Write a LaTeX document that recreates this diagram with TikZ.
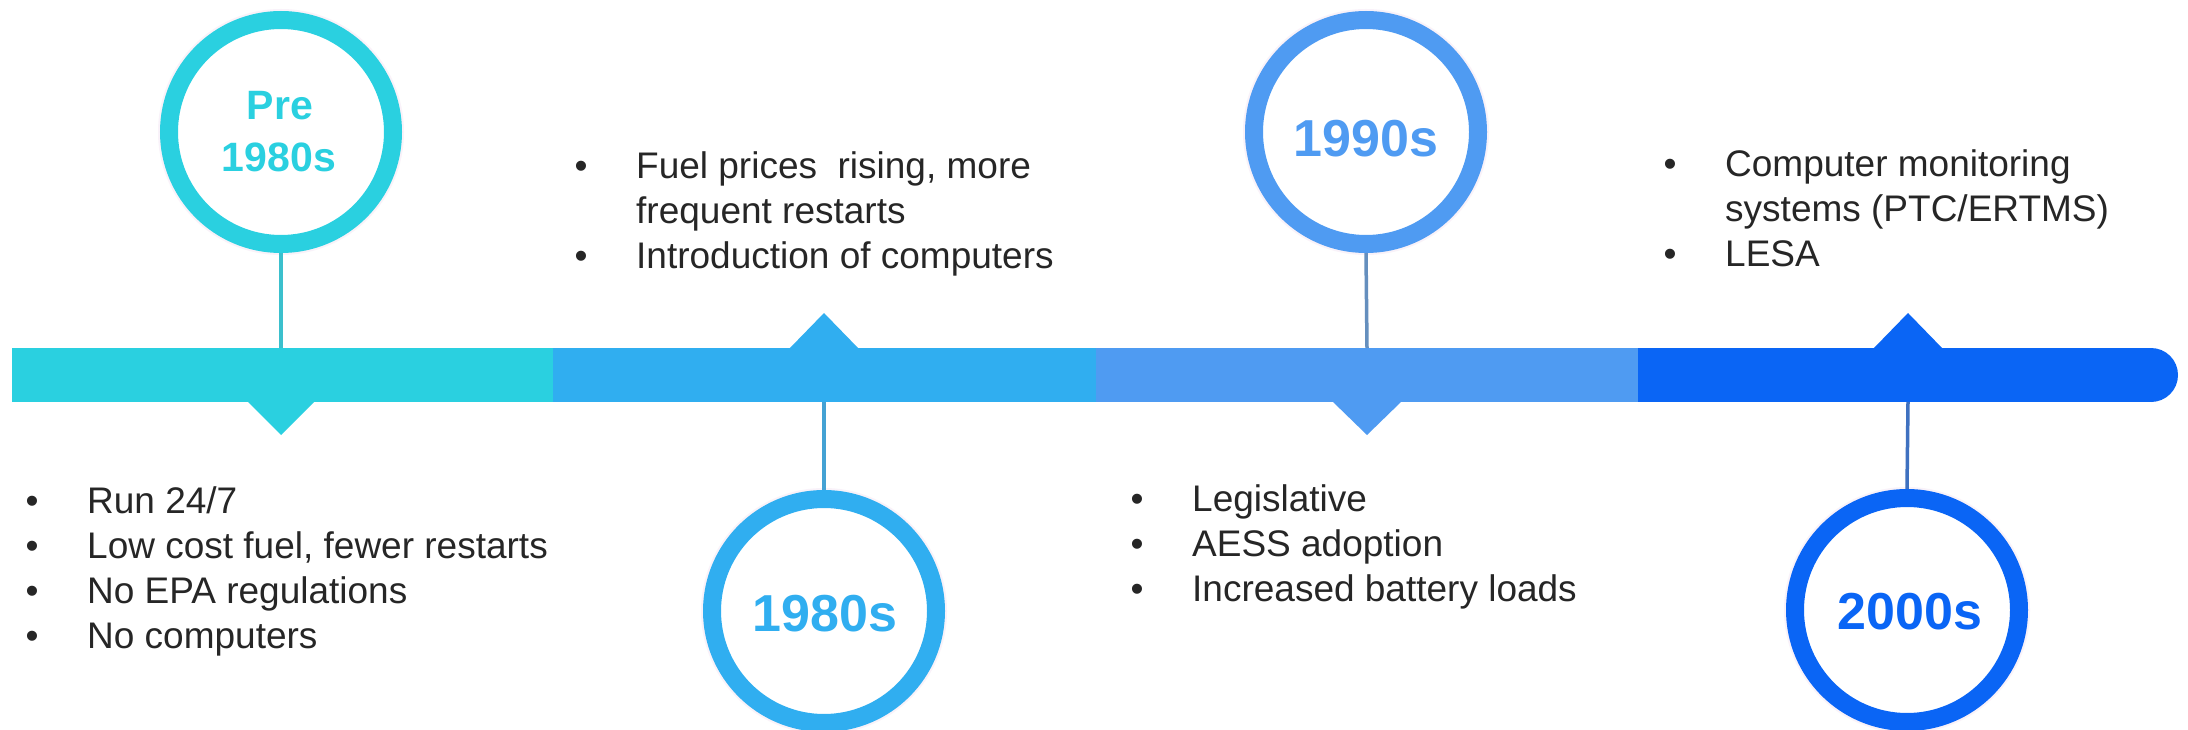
\documentclass[tikz,border=0pt]{standalone}
\usepackage{fontspec}
\setmainfont{Liberation Sans}
\definecolor{cA}{HTML}{2AD0E0}
\definecolor{cB}{HTML}{30AEF0}
\definecolor{cC}{HTML}{4F9BF2}
\definecolor{cD}{HTML}{0A65F5}
\definecolor{txt}{HTML}{262626}
\newcommand\bul{\makebox[61.5pt][l]{\textbullet}}
\begin{document}
\begin{tikzpicture}[x=1pt,y=-1pt,
  ring/.style={circle, draw=#1, line width=18pt, minimum size=224pt, inner sep=0pt, fill=white},
  halo/.style={circle, draw=#1, line width=10pt, minimum size=236pt, inner sep=0pt},
  seg/.style={inner sep=0pt, outer sep=0pt, minimum height=54pt},
  stem/.style={line width=3.5pt},
  yr/.style={anchor=base, inner sep=0pt, font=\bfseries\fontsize{52}{52}\selectfont},
  yrs/.style={anchor=base, inner sep=0pt, font=\bfseries\fontsize{41}{41}\selectfont},
  lst/.style={anchor=base west, inner sep=0pt, text=txt, font=\fontsize{37}{45}\selectfont}]
\useasboundingbox (0,0) rectangle (2188,730);
\fill[white] (0,0) rectangle (2188,730);

% timeline bar
\node[seg, fill=cA, minimum width=541pt] (s1) at (282.5,375) {};
\node[seg, fill=cB, minimum width=543pt] (s2) at (824.5,375) {};
\node[seg, fill=cC, minimum width=542pt] (s3) at (1367,375) {};
\node[seg, fill=cD, minimum width=513pt] (s4) at (1894.5,375) {};
\fill[cD] (2151,375) circle (27pt);

% pointers
\fill[cA] (247,401) -- (315,401) -- (281,435) -- cycle;
\fill[cB] (789,349) -- (859,349) -- (824,313) -- cycle;
\fill[cC] (1332,401) -- (1402,401) -- (1367,435) -- cycle;
\fill[cD] (1873,349) -- (1943,349) -- (1908,313) -- cycle;

% stem end points on the bar
\coordinate (b1) at (281,348);
\coordinate (b2) at (824,402);
\coordinate (b3) at (1367,348);
\coordinate (b4) at (1908,402);

% soft halos
\node[halo=violet!5] (h1) at (281,132) {};
\node[halo=violet!5] (h2) at (824,611) {};
\node[halo=violet!5] (h3) at (1366,132) {};
\node[halo=violet!5] (h4) at (1907,610) {};

% circles
\node[ring=cA] (pre) at (281,132) {};
\node[ring=cB] (c80) at (824,611) {};
\node[ring=cC] (c90) at (1366,132) {};
\node[ring=cD] (c00) at (1907,610) {};

% stems
\draw[stem, cA!80!gray] (pre.south) -- (b1);
\draw[stem, cB!75!gray] (b2) -- (c80.north);
\draw[stem, cC!55!gray] (c90.south) -- (b3);
\draw[stem, cD!55!gray] (b4) -- (c00.north);

% year labels
\node[yrs, text=cA] (preL1) at (280,120) {Pre};
\node[yrs, text=cA] (preL2) at (279,172) {1980s};
\node[yr, text=cB] (l80) at (825,631) {1980s};
\node[yr, text=cC] (l90) at (1366,157) {1990s};
\node[yr, text=cD] (l00) at (1910,629) {2000s};

% lists
\node[lst] (t1) at (25.5,513) {\begin{tabular}[t]{@{}l@{}l@{}}
\bul & Run 24/7\\
\bul & Low cost fuel, fewer restarts\\
\bul & No EPA regulations\\
\bul & No computers
\end{tabular}};
\node[lst] (t2) at (574.5,179) {\begin{tabular}[t]{@{}l@{}l@{}}
\bul & Fuel prices~ rising, more\\
 & frequent restarts\\
\bul & Introduction of computers
\end{tabular}};
\node[lst] (t3) at (1130.5,511) {\begin{tabular}[t]{@{}l@{}l@{}}
\bul & Legislative\\
\bul & AESS adoption\\
\bul & Increased battery loads
\end{tabular}};
\node[lst] (t4) at (1663.5,177) {\begin{tabular}[t]{@{}l@{}l@{}}
\bul & Computer monitoring\\
 & systems (PTC/ERTMS)\\
\bul & LESA
\end{tabular}};
\end{tikzpicture}
\end{document}
